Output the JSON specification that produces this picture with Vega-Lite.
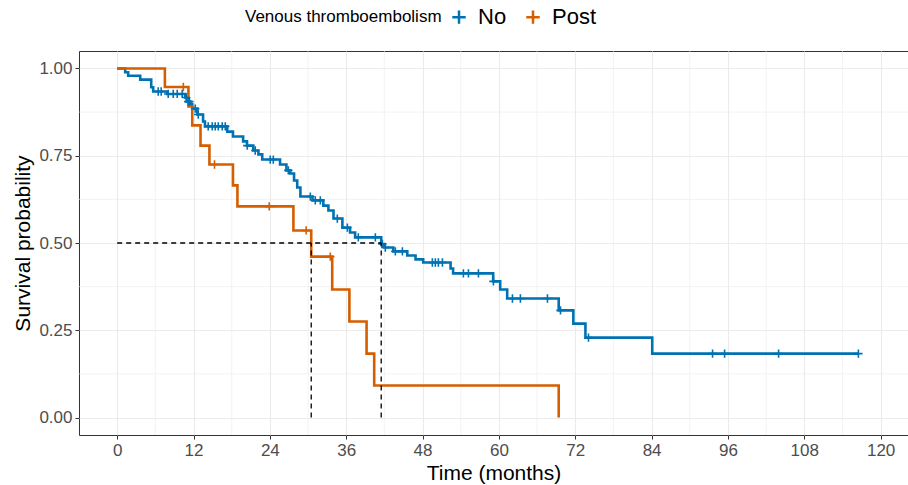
{
  "$schema": "https://vega.github.io/schema/vega-lite/v6.json",
  "width": 829,
  "height": 384,
  "autosize": {"type": "none"},
  "padding": {"left": 79, "top": 51, "right": 0, "bottom": 50},
  "background": "white",
  "config": {
    "font": "Liberation Sans",
    "view": {"stroke": "#333333", "strokeWidth": 1},
    "axis": {
      "domain": false,
      "grid": true,
      "gridColor": "#EBEBEB",
      "gridWidth": 1.1,
      "tickColor": "#333333",
      "tickSize": 4,
      "tickWidth": 1,
      "labelColor": "#4D4D4D",
      "labelFontSize": 17,
      "titleFontSize": 21,
      "titleFontWeight": "normal",
      "titleColor": "#000000"
    }
  },
  "datasets": {
    "curves": [
      {"group": "No", "t": 0, "s": 1.0},
      {"group": "No", "t": 1.26, "s": 0.989},
      {"group": "No", "t": 1.73, "s": 0.979},
      {"group": "No", "t": 3.62, "s": 0.968},
      {"group": "No", "t": 5.35, "s": 0.946},
      {"group": "No", "t": 5.66, "s": 0.934},
      {"group": "No", "t": 7.86, "s": 0.927},
      {"group": "No", "t": 10.7, "s": 0.917},
      {"group": "No", "t": 11.0, "s": 0.905},
      {"group": "No", "t": 11.5, "s": 0.897},
      {"group": "No", "t": 11.8, "s": 0.885},
      {"group": "No", "t": 12.6, "s": 0.868},
      {"group": "No", "t": 13.5, "s": 0.848},
      {"group": "No", "t": 13.8, "s": 0.834},
      {"group": "No", "t": 17.3, "s": 0.819},
      {"group": "No", "t": 18.2, "s": 0.805},
      {"group": "No", "t": 19.8, "s": 0.791},
      {"group": "No", "t": 20.4, "s": 0.779},
      {"group": "No", "t": 21.4, "s": 0.765},
      {"group": "No", "t": 22.2, "s": 0.754},
      {"group": "No", "t": 22.8, "s": 0.739},
      {"group": "No", "t": 25.6, "s": 0.725},
      {"group": "No", "t": 26.6, "s": 0.708},
      {"group": "No", "t": 27.2, "s": 0.699},
      {"group": "No", "t": 27.8, "s": 0.679},
      {"group": "No", "t": 28.3, "s": 0.659},
      {"group": "No", "t": 28.8, "s": 0.633},
      {"group": "No", "t": 30.7, "s": 0.622},
      {"group": "No", "t": 32.4, "s": 0.607},
      {"group": "No", "t": 33.2, "s": 0.593},
      {"group": "No", "t": 34.0, "s": 0.57},
      {"group": "No", "t": 35.4, "s": 0.544},
      {"group": "No", "t": 36.6, "s": 0.53},
      {"group": "No", "t": 37.4, "s": 0.516},
      {"group": "No", "t": 41.5, "s": 0.497},
      {"group": "No", "t": 42.0, "s": 0.487},
      {"group": "No", "t": 43.4, "s": 0.476},
      {"group": "No", "t": 45.6, "s": 0.464},
      {"group": "No", "t": 46.9, "s": 0.453},
      {"group": "No", "t": 48.1, "s": 0.444},
      {"group": "No", "t": 52.4, "s": 0.427},
      {"group": "No", "t": 52.8, "s": 0.413},
      {"group": "No", "t": 59.1, "s": 0.39},
      {"group": "No", "t": 60.2, "s": 0.367},
      {"group": "No", "t": 61.3, "s": 0.341},
      {"group": "No", "t": 69.4, "s": 0.307},
      {"group": "No", "t": 71.7, "s": 0.269},
      {"group": "No", "t": 73.6, "s": 0.229},
      {"group": "No", "t": 84.1, "s": 0.183},
      {"group": "No", "t": 116.5, "s": 0.183},
      {"group": "Post", "t": 0, "s": 1.0},
      {"group": "Post", "t": 7.5, "s": 0.947},
      {"group": "Post", "t": 11.2, "s": 0.891},
      {"group": "Post", "t": 11.8, "s": 0.837},
      {"group": "Post", "t": 13.1, "s": 0.779},
      {"group": "Post", "t": 14.5, "s": 0.725},
      {"group": "Post", "t": 18.2, "s": 0.665},
      {"group": "Post", "t": 18.9, "s": 0.605},
      {"group": "Post", "t": 27.7, "s": 0.536},
      {"group": "Post", "t": 30.5, "s": 0.461},
      {"group": "Post", "t": 33.8, "s": 0.367},
      {"group": "Post", "t": 36.5, "s": 0.275},
      {"group": "Post", "t": 39.2, "s": 0.183},
      {"group": "Post", "t": 40.4, "s": 0.092},
      {"group": "Post", "t": 69.4, "s": 0.0}
    ],
    "censors": [
      {"group": "No", "t": 6.45, "s": 0.934},
      {"group": "No", "t": 6.92, "s": 0.934},
      {"group": "No", "t": 8.02, "s": 0.927},
      {"group": "No", "t": 8.81, "s": 0.927},
      {"group": "No", "t": 9.44, "s": 0.927},
      {"group": "No", "t": 10.22, "s": 0.927},
      {"group": "No", "t": 10.85, "s": 0.917},
      {"group": "No", "t": 11.17, "s": 0.905},
      {"group": "No", "t": 11.35, "s": 0.905},
      {"group": "No", "t": 12.27, "s": 0.885},
      {"group": "No", "t": 12.74, "s": 0.868},
      {"group": "No", "t": 14.31, "s": 0.834},
      {"group": "No", "t": 14.94, "s": 0.834},
      {"group": "No", "t": 15.41, "s": 0.834},
      {"group": "No", "t": 15.89, "s": 0.834},
      {"group": "No", "t": 16.51, "s": 0.834},
      {"group": "No", "t": 16.99, "s": 0.834},
      {"group": "No", "t": 20.45, "s": 0.779},
      {"group": "No", "t": 21.7, "s": 0.765},
      {"group": "No", "t": 24.06, "s": 0.739},
      {"group": "No", "t": 24.54, "s": 0.739},
      {"group": "No", "t": 26.9, "s": 0.708},
      {"group": "No", "t": 30.36, "s": 0.633},
      {"group": "No", "t": 31.14, "s": 0.622},
      {"group": "No", "t": 31.93, "s": 0.622},
      {"group": "No", "t": 34.6, "s": 0.57},
      {"group": "No", "t": 36.18, "s": 0.544},
      {"group": "No", "t": 37.9, "s": 0.516},
      {"group": "No", "t": 40.58, "s": 0.516},
      {"group": "No", "t": 41.68, "s": 0.497},
      {"group": "No", "t": 42.15, "s": 0.487},
      {"group": "No", "t": 43.72, "s": 0.476},
      {"group": "No", "t": 44.83, "s": 0.476},
      {"group": "No", "t": 49.54, "s": 0.444},
      {"group": "No", "t": 50.01, "s": 0.444},
      {"group": "No", "t": 50.49, "s": 0.444},
      {"group": "No", "t": 51.12, "s": 0.444},
      {"group": "No", "t": 54.42, "s": 0.413},
      {"group": "No", "t": 55.21, "s": 0.413},
      {"group": "No", "t": 56.78, "s": 0.413},
      {"group": "No", "t": 59.14, "s": 0.39},
      {"group": "No", "t": 62.13, "s": 0.341},
      {"group": "No", "t": 63.38, "s": 0.341},
      {"group": "No", "t": 67.63, "s": 0.341},
      {"group": "No", "t": 69.68, "s": 0.307},
      {"group": "No", "t": 74.08, "s": 0.229},
      {"group": "No", "t": 93.58, "s": 0.183},
      {"group": "No", "t": 95.47, "s": 0.183},
      {"group": "No", "t": 103.96, "s": 0.183},
      {"group": "No", "t": 116.5, "s": 0.183},
      {"group": "Post", "t": 10.4, "s": 0.947},
      {"group": "Post", "t": 15.3, "s": 0.725},
      {"group": "Post", "t": 23.9, "s": 0.605},
      {"group": "Post", "t": 29.7, "s": 0.536},
      {"group": "Post", "t": 33.5, "s": 0.461}
    ],
    "medians": [
      {"x": 0, "x2": 41.5, "y": 0.5, "y2": 0.5},
      {"x": 30.5, "x2": 30.5, "y": 0, "y2": 0.5},
      {"x": 41.5, "x2": 41.5, "y": 0, "y2": 0.5}
    ],
    "minorx": [
      {"v": 6}, {"v": 18}, {"v": 30}, {"v": 42}, {"v": 54}, {"v": 66},
      {"v": 78}, {"v": 90}, {"v": 102}, {"v": 114}
    ],
    "minory": [
      {"v": 0.125}, {"v": 0.375}, {"v": 0.625}, {"v": 0.875}
    ]
  },
  "layer": [
    {
      "data": {"name": "minorx"},
      "mark": {"type": "rule", "color": "#EBEBEB", "strokeWidth": 0.6},
      "encoding": {"x": {"field": "v", "type": "quantitative"}}
    },
    {
      "data": {"name": "minory"},
      "mark": {"type": "rule", "color": "#EBEBEB", "strokeWidth": 0.6},
      "encoding": {"y": {"field": "v", "type": "quantitative"}}
    },
    {
      "data": {"name": "curves"},
      "mark": {"type": "line", "interpolate": "step-after", "strokeWidth": 2.6, "clip": true},
      "encoding": {
        "x": {
          "field": "t", "type": "quantitative",
          "scale": {"domain": [-6, 124.3], "nice": false, "zero": false},
          "axis": {"values": [0, 12, 24, 36, 48, 60, 72, 84, 96, 108, 120], "title": "Time (months)", "labelPadding": 3, "titlePadding": 4}
        },
        "y": {
          "field": "s", "type": "quantitative",
          "scale": {"domain": [-0.05, 1.05], "nice": false, "zero": false},
          "axis": {"values": [0, 0.25, 0.5, 0.75, 1], "format": ".2f", "title": "Survival probability", "labelPadding": 3, "titlePadding": 5}
        },
        "color": {
          "field": "group", "type": "nominal",
          "scale": {"domain": ["No", "Post"], "range": ["#0072B2", "#D55E00"]},
          "legend": {
            "title": "Venous thromboembolism",
            "orient": "none",
            "legendX": 166,
            "legendY": -45,
            "direction": "horizontal",
            "titleOrient": "left",
            "titleFontSize": 17,
            "titleFontWeight": "normal",
            "titleColor": "#000000",
            "titleBaseline": "middle",
            "titleLimit": 600,
            "titlePadding": 6,
            "labelFontSize": 22,
            "labelColor": "#000000",
            "labelLimit": 200,
            "symbolType": "M-1,0L1,0M0,-1L0,1",
            "symbolSize": 180,
            "symbolStrokeWidth": 2.5,
            "symbolFillColor": "transparent",
            "columnPadding": 14,
            "labelOffset": 8
          }
        }
      }
    },
    {
      "data": {"name": "censors"},
      "mark": {"type": "point", "shape": "M-1,0L1,0M0,-1L0,1", "size": 70, "strokeWidth": 1.6, "filled": false, "opacity": 1},
      "encoding": {
        "x": {"field": "t", "type": "quantitative"},
        "y": {"field": "s", "type": "quantitative"},
        "color": {"field": "group", "type": "nominal"}
      }
    },
    {
      "data": {"name": "medians"},
      "mark": {"type": "rule", "color": "#000000", "strokeWidth": 1.3, "strokeDash": [5, 4]},
      "encoding": {
        "x": {"field": "x", "type": "quantitative"},
        "x2": {"field": "x2"},
        "y": {"field": "y", "type": "quantitative"},
        "y2": {"field": "y2"}
      }
    }
  ]
}
